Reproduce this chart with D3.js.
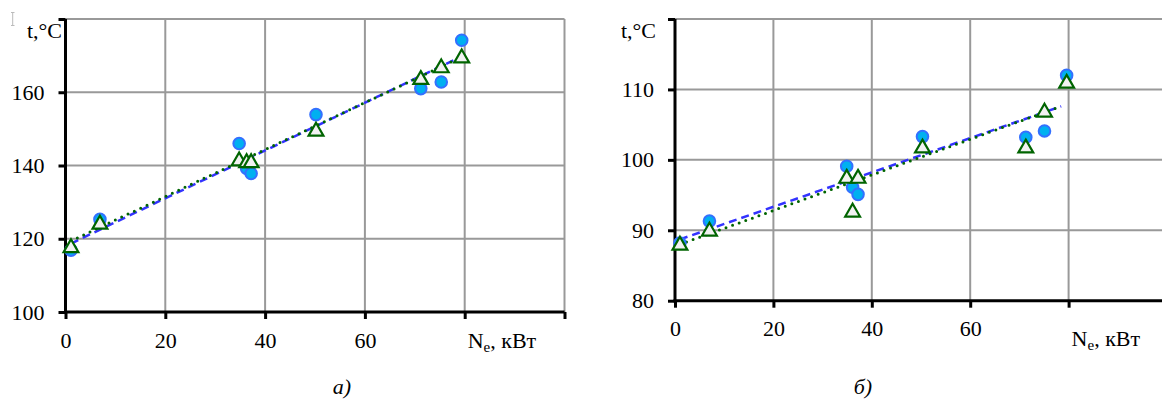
<!DOCTYPE html>
<html>
<head>
<meta charset="utf-8">
<script src="https://cdn.jsdelivr.net/npm/d3@7"></script>
<style>
  body { margin: 0; background: #fff; }
  svg text { font-family: "Liberation Serif", Tinos, "Times New Roman", "DejaVu Serif", serif; fill: #000; }
</style>
</head>
<body>
<div id="chart"></div>
<script>
// Panel a) - engine power vs temperature
const powerA = [1.1, 6.9, 34.8, 36.3, 37.2, 50.2, 71.2, 75.3, 79.4];
const tempMeasuredA = [116.9, 125.3, 146.0, 139.2, 137.8, 153.9, 161.0, 162.8, 174.2];
const tempModelA = [117.8, 124.2, 141.5, 141.0, 141.0, 149.6, 163.7, 166.9, 169.6];
const trendMeasuredA = [[1.1, 118.7], [79.4, 169.8]];
const trendModelA = [[1.1, 119.4], [79.4, 169.6]];
const yTicksA = [100, 120, 140, 160, 180];

// Panel б)
const powerB = [1.0, 7.0, 34.9, 36.1, 37.2, 50.3, 71.3, 75.1, 79.6];
const tempMeasuredB = [88.2, 91.3, 99.1, 96.1, 95.1, 103.3, 103.2, 104.1, 112.0];
const tempModelB = [88.0, 90.0, 97.5, 92.7, 97.5, 101.8, 101.8, 106.9, 111.0];
const trendMeasuredB = [[1.0, 88.7], [78.5, 107.6]];
const trendModelB = [[1.0, 88.0], [78.5, 107.6]];
const yTicksB = [80, 90, 100, 110, 120];

const xTicks = [0, 20, 40, 60, 80, 100];
const xTickLabels = ["0", "20", "40", "60", "", ""];

const serif = '"Liberation Serif", Tinos, "Times New Roman", "DejaVu Serif", serif';

const svg = d3.select("#chart").append("svg")
    .attr("width", 1162)
    .attr("height", 401);

function drawPanel(opt) {
    const x = d3.scaleLinear().domain([0, 100]).range([opt.left, opt.right]);
    const y = d3.scaleLinear().domain(opt.yDomain).range([opt.bottom, opt.top]);
    const g = svg.append("g");

    // grid
    g.selectAll(".vgrid")
      .data(xTicks.slice(1))
      .enter().append("line")
      .attr("x1", d => x(d)).attr("x2", d => x(d))
      .attr("y1", opt.top).attr("y2", opt.bottom)
      .attr("stroke", "#999").attr("stroke-width", 2);

    g.selectAll(".hgrid")
      .data(opt.yTicks.slice(1))
      .enter().append("line")
      .attr("x1", opt.left).attr("x2", opt.right)
      .attr("y1", d => y(d)).attr("y2", d => y(d))
      .attr("stroke", "#999").attr("stroke-width", 2);

    // axes
    const xAxis = g.append("g")
        .attr("transform", `translate(0,${opt.bottom})`)
        .call(d3.axisBottom(x).tickValues(xTicks).tickFormat((d, i) => xTickLabels[i])
              .tickSizeInner(7).tickSizeOuter(0).tickPadding(13));
    const yAxis = g.append("g")
        .attr("transform", `translate(${opt.left},0)`)
        .call(d3.axisLeft(y).tickValues(opt.yTicks)
              .tickFormat(d => d === opt.yTicks[opt.yTicks.length - 1] ? "" : d)
              .tickSizeInner(7).tickSizeOuter(0).tickPadding(14));
    [xAxis, yAxis].forEach(a => {
        a.attr("font-family", serif).attr("font-size", 22);
        a.select(".domain").attr("stroke", "#000").attr("stroke-width", 3);
        a.selectAll(".tick line").attr("stroke", "#000").attr("stroke-width", 3);
        a.selectAll("text").style("font-family", serif).style("font-size", "22px");
    });
    xAxis.select(".domain").attr("d", `M${opt.left - 1.5},0H${opt.right}`);
    yAxis.select(".domain").attr("d", `M0,${opt.bottom + 1.5}V${opt.top}`);

    // trend lines
    const line = d3.line().x(d => x(d[0])).y(d => y(d[1]));
    g.append("path").datum(opt.trendMeasured)
      .attr("d", line).attr("fill", "none")
      .attr("stroke", "#3333ff").attr("stroke-width", 2.5)
      .attr("stroke-dasharray", "8,5");
    g.append("path").datum(opt.trendModel)
      .attr("d", line).attr("fill", "none")
      .attr("stroke", "#006400").attr("stroke-width", 3)
      .attr("stroke-linecap", "round")
      .attr("stroke-dasharray", "0,7");

    // measured points
    g.selectAll(".pt-m")
      .data(opt.power.map((p, i) => [p, opt.measured[i]]))
      .enter().append("circle")
      .attr("cx", d => x(d[0])).attr("cy", d => y(d[1]))
      .attr("r", 5.8)
      .attr("fill", "#00b0f0")
      .attr("stroke", "#3370ff").attr("stroke-width", 2);

    // model points
    const tri = d3.symbol().type(d3.symbolTriangle).size(95);
    g.selectAll(".pt-c")
      .data(opt.power.map((p, i) => [p, opt.model[i]]))
      .enter().append("path")
      .attr("d", tri)
      .attr("transform", d => `translate(${x(d[0])},${y(d[1]) + 1})`)
      .attr("fill", "#f2f2f2")
      .attr("stroke", "#006400").attr("stroke-width", 2.2)
      .attr("stroke-linejoin", "miter");

    // axis titles
    g.append("text")
      .attr("x", opt.yTitleX).attr("y", 38)
      .attr("text-anchor", "end")
      .style("font-size", "22px")
      .text("t,°C");

    const xt = g.append("text")
      .attr("x", x(80) + 3).attr("y", opt.bottom + opt.xTitleDy)
      .style("font-size", "22px");
    xt.append("tspan").text("N");
    xt.append("tspan").style("font-size", "15px").attr("dy", 4).text("e");
    xt.append("tspan").attr("dy", -4).text(", кВт");

    // caption
    g.append("text")
      .attr("x", opt.captionX).attr("y", 394)
      .attr("text-anchor", "middle")
      .style("font-size", "22px")
      .style("font-style", "italic")
      .text(opt.caption);
}

drawPanel({
    left: 65.5, right: 564.5, top: 19, bottom: 312,
    yDomain: [100, 180], yTicks: yTicksA,
    power: powerA, measured: tempMeasuredA, model: tempModelA,
    trendMeasured: trendMeasuredA, trendModel: trendModelA,
    yTitleX: 62, xTitleDy: 36, captionX: 342, caption: "а)"
});

drawPanel({
    left: 675, right: 1167, top: 19, bottom: 300.7,
    yDomain: [80, 120], yTicks: yTicksB,
    power: powerB, measured: tempMeasuredB, model: tempModelB,
    trendMeasured: trendMeasuredB, trendModel: trendModelB,
    yTitleX: 656, xTitleDy: 45, captionX: 863, caption: "б)"
});

// small stray mark in the top-left corner of the original
svg.append("path")
  .attr("d", "M11,12.5H14.5M12.7,12.5V25.5M11,25.5H14.5")
  .attr("stroke", "#bbb").attr("stroke-width", 1).attr("fill", "none");
</script>
</body>
</html>
